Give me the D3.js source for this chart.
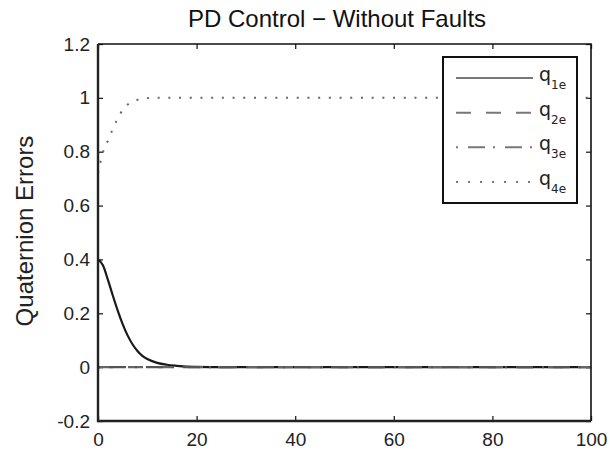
<!DOCTYPE html>
<html>
<head>
<meta charset="utf-8">
<script src="https://cdn.jsdelivr.net/npm/d3@7/dist/d3.min.js"></script>
<style>
  html, body { margin: 0; padding: 0; background: #fff; }
  svg { display: block; font-family: "Liberation Sans", Arial, Helvetica, sans-serif; }
</style>
</head>
<body>
<svg id="chart" width="610" height="451"></svg>
<script>
// Simulation time (s) and quaternion error components
const time = [0, 1, 2, 3, 4, 5, 6, 7, 8, 9, 10, 12, 14, 16, 18, 20, 25, 30, 40, 50, 60, 70, 80, 90, 100];
const q1e  = [0.400, 0.378, 0.325, 0.266, 0.210, 0.160, 0.118, 0.085, 0.060, 0.042, 0.030, 0.016, 0.009, 0.005, 0.002, 0.001, 0, 0, 0, 0, 0, 0, 0, 0, 0];
const q2e  = [0, 0, 0, 0, 0, 0, 0, 0, 0, 0, 0, 0, 0, 0, 0, 0, 0, 0, 0, 0, 0, 0, 0, 0, 0];
const q3e  = [0, 0, 0, 0, 0, 0, 0, 0, 0, 0, 0, 0, 0, 0, 0, 0, 0, 0, 0, 0, 0, 0, 0, 0, 0];
const q4e  = [0.720, 0.797, 0.840, 0.885, 0.923, 0.955, 0.975, 0.986, 0.993, 0.997, 0.999, 1.0, 1.0, 1.0, 1.0, 1.0, 1.0, 1.0, 1.0, 1.0, 1.0, 1.0, 1.0, 1.0, 1.0];

const xTicks = [0, 20, 40, 60, 80, 100];
const yTicks = [-0.2, 0, 0.2, 0.4, 0.6, 0.8, 1, 1.2];
const seriesNames = ["1e", "2e", "3e", "4e"];

const svg = d3.select("#chart");
const box = { left: 98, right: 591, top: 44, bottom: 421 };

const x = d3.scaleLinear().domain([0, 100]).range([box.left, box.right]);
const y = d3.scaleLinear().domain([-0.2, 1.2]).range([box.bottom, box.top]);

// Title
svg.append("text")
  .attr("x", 337).attr("y", 27)
  .attr("text-anchor", "middle")
  .attr("font-size", 24)
  .attr("fill", "#111")
  .text("PD Control \u2212 Without Faults");

// Y axis label
svg.append("text")
  .attr("transform", "translate(33,231) rotate(-90)")
  .attr("text-anchor", "middle")
  .attr("font-size", 24)
  .attr("fill", "#222")
  .text("Quaternion Errors");

// Axes with inward ticks, mirrored on top and right
const fmt = d => String(+d.toFixed(1));
const gL = svg.append("g").attr("transform", `translate(${box.left},0)`)
  .call(d3.axisLeft(y).tickValues(yTicks).tickSize(-5).tickPadding(8).tickFormat(fmt));
const gB = svg.append("g").attr("transform", `translate(0,${box.bottom})`)
  .call(d3.axisBottom(x).tickValues(xTicks).tickSize(-5).tickPadding(11.5).tickFormat(d3.format("d")));
const gR = svg.append("g").attr("transform", `translate(${box.right},0)`)
  .call(d3.axisRight(y).tickValues(yTicks).tickSize(-5).tickFormat(""));
const gT = svg.append("g").attr("transform", `translate(0,${box.top})`)
  .call(d3.axisTop(x).tickValues(xTicks).tickSize(-5).tickFormat(""));

[gL, gB, gR, gT].forEach(g => {
  g.select(".domain").remove();
  g.selectAll(".tick line").attr("stroke", "#222").attr("stroke-width", 1.3);
  g.selectAll(".tick text").attr("font-size", 19).attr("fill", "#222")
    .attr("font-family", "'Liberation Sans', Arial, sans-serif");
});

// Data lines
const line = vals => d3.line()
  .x((d, i) => x(time[i]))
  .y(d => y(d))
  .curve(d3.curveMonotoneX)(vals);

const plot = svg.append("g");
plot.append("path").attr("d", line(q1e))
  .attr("fill", "none").attr("stroke", "#1a1a1a").attr("stroke-width", 2.2);
plot.append("path").attr("d", line(q2e))
  .attr("fill", "none").attr("stroke", "#666").attr("stroke-width", 2.4)
  .attr("stroke-dasharray", "15,15");
plot.append("path").attr("d", line(q3e))
  .attr("fill", "none").attr("stroke", "#555").attr("stroke-width", 2.2)
  .attr("stroke-dasharray", "2,9,17,9");
plot.append("path").attr("d", line(q4e))
  .attr("fill", "none").attr("stroke", "#666").attr("stroke-width", 2)
  .attr("stroke-dasharray", "2,8.7");

// Plot frame
svg.append("path")
  .attr("d", `M${box.left},${box.top}H${box.right}V${box.bottom}`)
  .attr("fill", "none").attr("stroke", "#111").attr("stroke-width", 1.6);
svg.append("path")
  .attr("d", `M${box.left},${box.top}V${box.bottom}H${box.right}`)
  .attr("fill", "none").attr("stroke", "#222").attr("stroke-width", 2.4);

// Legend
const legend = svg.append("g");
legend.append("rect")
  .attr("x", 443).attr("y", 57).attr("width", 134).attr("height", 146)
  .attr("fill", "#fff").attr("stroke", "#111").attr("stroke-width", 2);

const dashes = [null, "15,15", "2,10,17,8", "2,10"];
const legendY = d3.scalePoint().domain(seriesNames).range([78, 182]);
seriesNames.forEach((name, i) => {
  const ly = legendY(name);
  legend.append("line")
    .attr("x1", 456).attr("x2", 533).attr("y1", ly).attr("y2", ly)
    .attr("stroke", "#777").attr("stroke-width", 2)
    .attr("stroke-dasharray", dashes[i]);
  const t = legend.append("text")
    .attr("x", 539).attr("y", ly + 3)
    .attr("font-size", 19).attr("fill", "#222")
    .attr("font-family", "'DejaVu Sans', Verdana, sans-serif");
  t.append("tspan").text("q");
  t.append("tspan").attr("font-size", 12).attr("dy", 8).text(name);
});
</script>
</body>
</html>
